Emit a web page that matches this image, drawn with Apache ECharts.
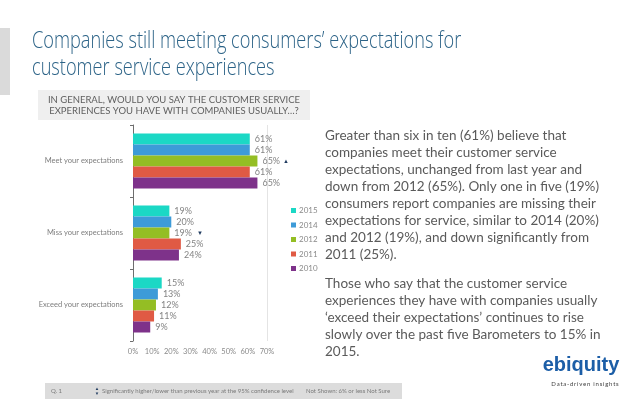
<!DOCTYPE html>
<html>
<head>
<meta charset="utf-8">
<script src="https://cdn.jsdelivr.net/npm/echarts@6/dist/echarts.min.js"></script>
<style>html,body{margin:0;padding:0;background:#fff;}#c{width:638px;height:399px;}</style>
</head>
<body>
<div id="c"></div>
<script>
var categories = ['Meet your expectations', 'Miss your expectations', 'Exceed your expectations'];
var years = ['2015', '2014', '2012', '2011', '2010'];
var v2015 = [61, 19, 15];
var v2014 = [61, 20, 13];
var v2012 = [65, 19, 12];
var v2011 = [61, 25, 11];
var v2010 = [65, 24, 9];
var sig2012 = ['up', 'down', null];
var xTicks = [0, 10, 20, 30, 40, 50, 60, 70];

var colors = ['#1bd8c5', '#3d9bd8', '#94be24', '#e05a44', '#7e328a'];
var seriesValues = [v2015, v2014, v2012, v2011, v2010];
var FONT = 'Lato, "Open Sans", sans-serif';

var series = years.map(function (y, i) {
  var s = {
    name: y,
    type: 'bar',
    data: seriesValues[i],
    barGap: '0%',
    barCategoryGap: '23.6%',
    itemStyle: { color: colors[i] },
    label: {
      show: true,
      position: 'right',
      distance: 5,
      fontSize: 9,
      fontFamily: FONT,
      color: '#838383',
      formatter: function (p) { return p.value + '%'; }
    }
  };
  if (y === '2012') {
    s.label.formatter = function (p) {
      var f = sig2012[p.dataIndex];
      return p.value + '%' + (f === 'up' ? '{up|▲}' : f === 'down' ? '{down|▼}' : '');
    };
    s.label.rich = {
      up: { fontSize: 6, color: '#1f3a5f', padding: [0, 0, 0, 3] },
      down: { fontSize: 6, color: '#1f3a5f', padding: [0, 0, 0, 5] }
    };
  }
  return s;
});

var paraLines1 = [
  'Greater than six in ten (61%) believe that',
  'companies meet their customer service',
  'expectations, unchanged from last year and',
  'down from 2012 (65%). Only one in five (19%)',
  'consumers report companies are missing their',
  'expectations for service, similar to 2014 (20%)',
  'and 2012 (19%), and down significantly from',
  '2011 (25%).'
];
var paraLines2 = [
  'Those who say that the customer service',
  'experiences they have with companies usually',
  '\u2018exceed their expectations\u2019 continues to rise',
  'slowly over the past five Barometers to 15% in',
  '2015.'
];
var tagline = 'Data-driven insights'.split('').join('\u2009');

var chart = echarts.init(document.getElementById('c'), null, { renderer: 'canvas' });
chart.setOption({
  animation: false,
  backgroundColor: '#ffffff',
  color: colors,
  grid: { left: 133, right: 371, top: 125, bottom: 58 },
  xAxis: {
    type: 'value',
    min: 0,
    max: 70,
    interval: 10,
    axisLine: { show: false },
    axisTick: { show: false },
    axisLabel: { fontSize: 7.5, color: '#8a8a8a', fontFamily: FONT, margin: 7, formatter: '{value}%' },
    splitLine: { show: true, lineStyle: { width: 1, color: ['rgba(0,0,0,0)', 'rgba(0,0,0,0)', 'rgba(0,0,0,0)', 'rgba(0,0,0,0)', 'rgba(0,0,0,0)', 'rgba(0,0,0,0)', 'rgba(0,0,0,0)', '#e4e4e4'] } }
  },
  yAxis: {
    type: 'category',
    data: categories,
    inverse: true,
    axisLine: { show: true, lineStyle: { color: '#6e6e6e', width: 1 } },
    axisTick: { show: true, length: 3, lineStyle: { color: '#6e6e6e' } },
    axisLabel: { fontSize: 7.5, color: '#7d7d7d', fontFamily: FONT, margin: 10 }
  },
  legend: {
    orient: 'vertical',
    left: 286,
    top: 201,
    itemWidth: 5,
    itemHeight: 5,
    itemGap: 5.5,
    icon: 'rect',
    data: years,
    textStyle: { fontSize: 8, color: '#8a8a8a', fontFamily: FONT, lineHeight: 9, padding: [0, 0, 0, -2] }
  },
  series: series,
  graphic: [
    { type: 'rect', shape: { x: 0, y: 28, width: 10, height: 67 }, style: { fill: '#dadada' } },
    { type: 'text', x: 32, y: 28, scaleX: 0.79, style: { text: 'Companies still meeting consumers\u2019 expectations for\ncustomer service experiences', font: '300 23px "Open Sans", sans-serif', fill: '#2c6387', lineHeight: 27 } },
    { type: 'rect', shape: { x: 38, y: 90, width: 272, height: 30 }, style: { fill: '#efefef' } },
    { type: 'text', x: 174, y: 105, style: { text: 'IN GENERAL, WOULD YOU SAY THE CUSTOMER SERVICE\nEXPERIENCES YOU HAVE WITH COMPANIES USUALLY\u2026?', font: '9.5px ' + FONT, fill: '#5f5f5f', align: 'center', verticalAlign: 'middle', lineHeight: 11 } },
    { type: 'text', x: 325, y: 127, style: { text: paraLines1.join('\n'), font: '13.5px ' + FONT, fill: '#5a5a5a', lineHeight: 17 } },
    { type: 'text', x: 325, y: 275, style: { text: paraLines2.join('\n'), font: '13.5px ' + FONT, fill: '#5a5a5a', lineHeight: 17 } },
    { type: 'rect', shape: { x: 45, y: 383, width: 357, height: 16 }, style: { fill: '#dcdcdc' } },
    { type: 'text', x: 51, y: 391, style: { text: 'Q. 1', font: '6px ' + FONT, fill: '#7a7a7a', verticalAlign: 'middle' } },
    { type: 'text', x: 97, y: 388.5, style: { text: '\u25B2', font: '4.5px sans-serif', fill: '#1f3a5f', align: 'center', verticalAlign: 'middle' } },
    { type: 'text', x: 97, y: 393.5, style: { text: '\u25BC', font: '4.5px sans-serif', fill: '#1f3a5f', align: 'center', verticalAlign: 'middle' } },
    { type: 'text', x: 102, y: 391, style: { text: 'Significantly higher/lower than previous year at the 95% confidence level', font: '6px ' + FONT, fill: '#7a7a7a', verticalAlign: 'middle' } },
    { type: 'text', x: 306, y: 391, style: { text: 'Not Shown: 6% or less Not Sure', font: '6px ' + FONT, fill: '#7a7a7a', verticalAlign: 'middle' } },
    { type: 'text', x: 581, y: 365, style: { text: 'ebiquity', font: 'bold 20px "Liberation Sans", Arial, sans-serif', fill: '#1c5ea7', align: 'center', verticalAlign: 'middle' } },
    { type: 'text', x: 585, y: 384, style: { text: tagline, font: '6px ' + FONT, fill: '#3c3c3c', align: 'center', verticalAlign: 'middle' } }
  ]
});
</script>
</body>
</html>
